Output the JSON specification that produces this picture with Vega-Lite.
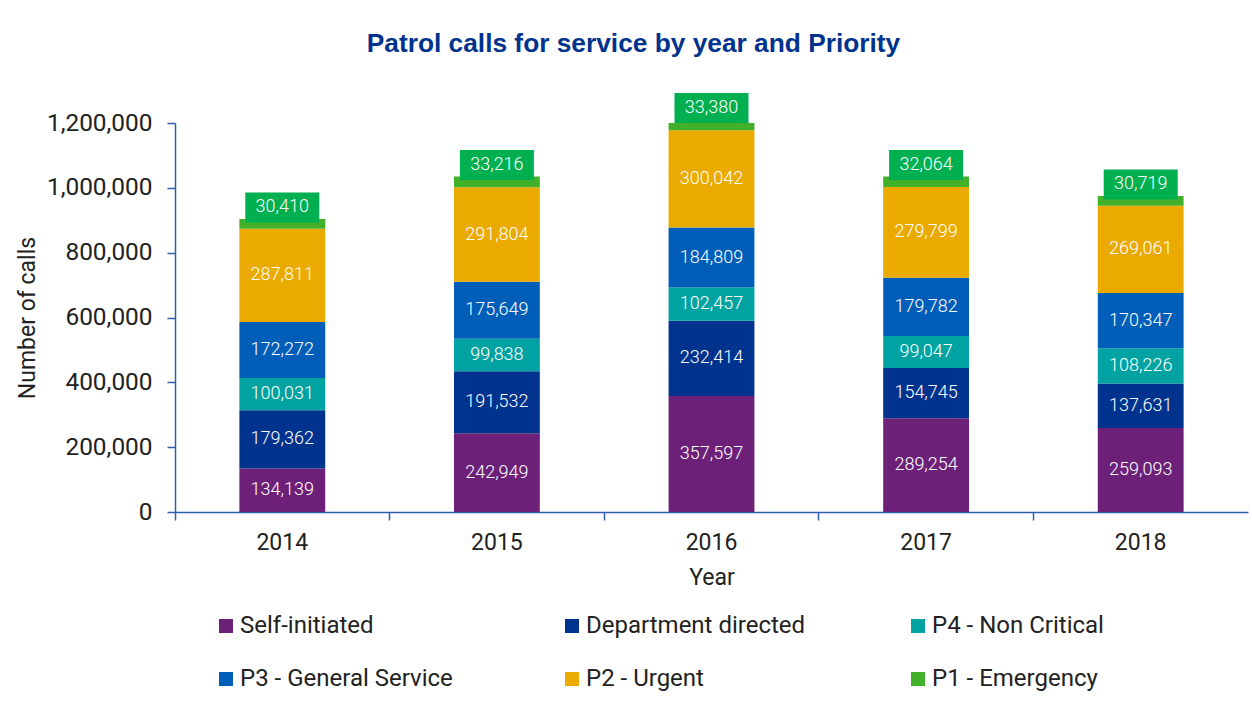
{
  "$schema": "https://vega.github.io/schema/vega-lite/v6.json",
  "width": 1073,
  "height": 389,
  "autosize": "none",
  "padding": {"left": 175, "top": 123, "right": 4, "bottom": 191},
  "background": "white",
  "title": {
    "text": "Patrol calls for service by year and Priority",
    "font": "Liberation Sans",
    "fontSize": 26.3,
    "fontWeight": "bold",
    "color": "#00338D",
    "anchor": "middle",
    "frame": "group",
    "dx": -78,
    "offset": 36
  },
  "data": {
    "values": [
      {"year": "2014", "priority": "Self-initiated", "calls": 134139},
      {"year": "2014", "priority": "Department directed", "calls": 179362},
      {"year": "2014", "priority": "P4 - Non Critical", "calls": 100031},
      {"year": "2014", "priority": "P3 - General Service", "calls": 172272},
      {"year": "2014", "priority": "P2 - Urgent", "calls": 287811},
      {"year": "2014", "priority": "P1 - Emergency", "calls": 30410},
      {"year": "2015", "priority": "Self-initiated", "calls": 242949},
      {"year": "2015", "priority": "Department directed", "calls": 191532},
      {"year": "2015", "priority": "P4 - Non Critical", "calls": 99838},
      {"year": "2015", "priority": "P3 - General Service", "calls": 175649},
      {"year": "2015", "priority": "P2 - Urgent", "calls": 291804},
      {"year": "2015", "priority": "P1 - Emergency", "calls": 33216},
      {"year": "2016", "priority": "Self-initiated", "calls": 357597},
      {"year": "2016", "priority": "Department directed", "calls": 232414},
      {"year": "2016", "priority": "P4 - Non Critical", "calls": 102457},
      {"year": "2016", "priority": "P3 - General Service", "calls": 184809},
      {"year": "2016", "priority": "P2 - Urgent", "calls": 300042},
      {"year": "2016", "priority": "P1 - Emergency", "calls": 33380},
      {"year": "2017", "priority": "Self-initiated", "calls": 289254},
      {"year": "2017", "priority": "Department directed", "calls": 154745},
      {"year": "2017", "priority": "P4 - Non Critical", "calls": 99047},
      {"year": "2017", "priority": "P3 - General Service", "calls": 179782},
      {"year": "2017", "priority": "P2 - Urgent", "calls": 279799},
      {"year": "2017", "priority": "P1 - Emergency", "calls": 32064},
      {"year": "2018", "priority": "Self-initiated", "calls": 259093},
      {"year": "2018", "priority": "Department directed", "calls": 137631},
      {"year": "2018", "priority": "P4 - Non Critical", "calls": 108226},
      {"year": "2018", "priority": "P3 - General Service", "calls": 170347},
      {"year": "2018", "priority": "P2 - Urgent", "calls": 269061},
      {"year": "2018", "priority": "P1 - Emergency", "calls": 30719}
    ]
  },
  "transform": [
    {"calculate": "indexof(['Self-initiated','Department directed','P4 - Non Critical','P3 - General Service','P2 - Urgent','P1 - Emergency'], datum.priority)", "as": "idx"},
    {"stack": "calls", "groupby": ["year"], "sort": [{"field": "idx", "order": "ascending"}], "as": ["lo", "hi"]},
    {"calculate": "(datum.lo + datum.hi) / 2", "as": "mid"}
  ],
  "encoding": {
    "x": {
      "field": "year",
      "type": "ordinal",
      "scale": {"paddingInner": 0, "paddingOuter": 0},
      "axis": {
        "title": "Year",
        "labelAngle": 0,
        "bandPosition": 0,
        "tickSize": 8,
        "labelPadding": 11,
        "titlePadding": 12,
        "labelOffset": 0
      }
    }
  },
  "layer": [
    {
      "mark": {"type": "bar", "width": {"band": 0.4}, "clip": true},
      "encoding": {
        "y": {
          "field": "lo",
          "type": "quantitative",
          "scale": {"domain": [0, 1200000], "nice": false},
          "axis": {
            "title": "Number of calls",
            "values": [0, 200000, 400000, 600000, 800000, 1000000, 1200000],
            "format": ",d",
            "grid": false,
            "tickSize": 8,
            "labelPadding": 15,
            "labelFontSize": 24.4,
            "titlePadding": 7
          }
        },
        "y2": {"field": "hi"},
        "color": {
          "field": "priority",
          "type": "nominal",
          "scale": {
            "domain": ["Self-initiated", "Department directed", "P4 - Non Critical", "P3 - General Service", "P2 - Urgent", "P1 - Emergency"],
            "range": ["#6D2077", "#00338D", "#00A3A1", "#005EB8", "#EAAA00", "#43B02A"]
          },
          "legend": {
            "title": null,
            "orient": "none",
            "legendX": 39,
            "legendY": 491,
            "columns": 3,
            "direction": "horizontal",
            "symbolType": "square",
            "symbolSize": 196,
            "symbolStrokeWidth": 0,
            "labelFontSize": 24,
            "labelFont": "Roboto",
            "labelColor": "#222222",
            "labelOffset": 2,
            "columnPadding": 100,
            "rowPadding": 29,
            "gridAlign": "all",
            "labelLimit": 400
          }
        }
      }
    },
    {
      "transform": [{"filter": "datum.priority != 'P1 - Emergency'"}],
      "mark": {"type": "text", "font": "Roboto", "fontWeight": 300, "fontSize": 18, "color": "white", "align": "center", "baseline": "middle"},
      "encoding": {
        "y": {"field": "mid", "type": "quantitative"},
        "text": {"field": "calls", "type": "quantitative", "format": ",d"}
      }
    },
    {
      "transform": [{"filter": "datum.priority == 'P1 - Emergency'"}],
      "mark": {"type": "point", "shape": "M-1,-0.405L1,-0.405L1,0.405L-1,0.405Z", "filled": true, "opacity": 1, "color": "#00B050", "size": 5476, "yOffset": -11.5, "strokeWidth": 0},
      "encoding": {
        "y": {"field": "hi", "type": "quantitative"}
      }
    },
    {
      "transform": [{"filter": "datum.priority == 'P1 - Emergency'"}],
      "mark": {"type": "text", "font": "Roboto", "fontWeight": 300, "fontSize": 18, "color": "white", "align": "center", "baseline": "middle", "yOffset": -11.5},
      "encoding": {
        "y": {"field": "hi", "type": "quantitative"},
        "text": {"field": "calls", "type": "quantitative", "format": ",d"}
      }
    }
  ],
  "config": {
    "view": {"stroke": null},
    "axis": {
      "domainColor": "#2F5DAA",
      "tickColor": "#2F5DAA",
      "labelFont": "Roboto",
      "labelFontSize": 23,
      "labelColor": "#222222",
      "titleFont": "Roboto",
      "titleFontSize": 23,
      "titleFontWeight": "normal",
      "titleColor": "#222222",
      "domainWidth": 1.5,
      "tickWidth": 1.5
    }
  }
}
